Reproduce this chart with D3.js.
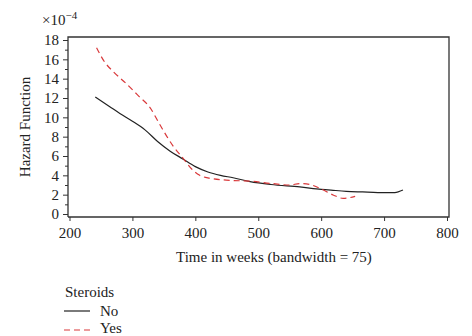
<!DOCTYPE html>
<html>
<head>
<meta charset="utf-8">
<script src="https://cdn.jsdelivr.net/npm/d3@7"></script>
<style>
  body { margin: 0; background: #fff; }
  svg text { font-family: "Liberation Serif", "DejaVu Serif", serif; fill: #222; }
</style>
</head>
<body>
<div id="chart"></div>
<script>
// hazard estimates (x 1e-4)
var weeksNo  = [241, 264, 280, 300, 320, 340, 360, 380, 400, 420, 440, 460, 487, 520, 566, 600, 619, 640, 666, 690, 717, 730];
var hazardNo = [12.1, 11.1, 10.4, 9.6, 8.7, 7.5, 6.5, 5.7, 4.9, 4.35, 4.0, 3.75, 3.35, 3.05, 2.8, 2.55, 2.45, 2.35, 2.28, 2.22, 2.22, 2.48];
var weeksYes  = [243, 255, 270, 290, 310, 328, 344, 365, 380, 395, 407, 423, 455, 487, 519, 550, 566, 582, 598, 619, 635, 654];
var hazardYes = [17.2, 15.8, 14.7, 13.5, 12.2, 11.0, 9.2, 7.0, 5.8, 4.6, 4.0, 3.7, 3.48, 3.4, 3.17, 3.0, 3.15, 3.05, 2.66, 1.97, 1.62, 1.82];
var xTicks = [200, 300, 400, 500, 600, 700, 800];
var yTicks = [0, 2, 4, 6, 8, 10, 12, 14, 16, 18];
var yMinor = [1, 3, 5, 7, 9, 11, 13, 15, 17];

var W = 472, H = 336;
var svg = d3.select("#chart").append("svg")
  .attr("width", W)
  .attr("height", H);

var x = d3.scaleLinear().domain([200, 800]).range([69.5, 447]);
var y = d3.scaleLinear().domain([0, 18]).range([214, 40]);

var frameL = 68, frameR = 449, frameT = 37, frameB = 217;
var fs = "15px";

// frame
svg.append("path")
  .attr("d", "M" + frameL + "," + frameB + "V" + frameT + "H" + frameR + "V" + frameB + "H" + frameL)
  .attr("fill", "none")
  .attr("stroke", "#333")
  .attr("stroke-width", 1.3);

// y axis
var yAxis = svg.append("g")
  .attr("transform", "translate(" + frameL + ",0)")
  .call(d3.axisLeft(y).tickValues(yTicks).tickSize(5).tickPadding(4));
yAxis.select(".domain").remove();
yAxis.selectAll("text").attr("font-size", fs).attr("font-family", "Liberation Serif");
yAxis.selectAll("line").attr("stroke", "#333");

var yAxisMinor = svg.append("g")
  .attr("transform", "translate(" + frameL + ",0)")
  .call(d3.axisLeft(y).tickValues(yMinor).tickSize(3).tickFormat(""));
yAxisMinor.select(".domain").remove();
yAxisMinor.selectAll("line").attr("stroke", "#333");

// x axis
var xAxis = svg.append("g")
  .attr("transform", "translate(0," + frameB + ")")
  .call(d3.axisBottom(x).tickValues(xTicks).tickSize(4).tickPadding(6));
xAxis.select(".domain").remove();
xAxis.selectAll("text").attr("font-size", fs).attr("font-family", "Liberation Serif");
xAxis.selectAll("line").attr("stroke", "#333");

// axis titles
svg.append("text")
  .attr("x", x(525))
  .attr("y", 262)
  .attr("text-anchor", "middle")
  .attr("font-size", fs)
  .text("Time in weeks (bandwidth = 75)");

svg.append("text")
  .attr("transform", "translate(30," + y(9) + ") rotate(-90)")
  .attr("text-anchor", "middle")
  .attr("font-size", fs)
  .text("Hazard Function");

var mult = svg.append("text")
  .attr("x", 42)
  .attr("y", 25)
  .attr("font-size", fs);
mult.append("tspan").text("×10");
mult.append("tspan").attr("dy", -6).attr("font-size", "11px").text("−4");

// curves
var lineGen = d3.line()
  .x(d => x(d[0]))
  .y(d => y(d[1]))
  .curve(d3.curveMonotoneX);

svg.append("path")
  .datum(d3.zip(weeksNo, hazardNo))
  .attr("d", lineGen)
  .attr("fill", "none")
  .attr("stroke", "#222")
  .attr("stroke-width", 1.2);

svg.append("path")
  .datum(d3.zip(weeksYes, hazardYes))
  .attr("d", lineGen)
  .attr("fill", "none")
  .attr("stroke", "#d9383a")
  .attr("stroke-width", 1.2)
  .attr("stroke-dasharray", "6,4");

// legend
var legend = svg.append("g");
legend.append("text").attr("x", 65).attr("y", 297).attr("font-size", fs).text("Steroids");
legend.append("line").attr("x1", 64).attr("x2", 90).attr("y1", 311).attr("y2", 311)
  .attr("stroke", "#222").attr("stroke-width", 1.2);
legend.append("text").attr("x", 100).attr("y", 316).attr("font-size", fs).text("No");
legend.append("line").attr("x1", 64).attr("x2", 90).attr("y1", 330).attr("y2", 330)
  .attr("stroke", "#d9383a").attr("stroke-width", 1.2).attr("stroke-dasharray", "6,4");
legend.append("text").attr("x", 100).attr("y", 333).attr("font-size", fs).text("Yes");
</script>
</body>
</html>
